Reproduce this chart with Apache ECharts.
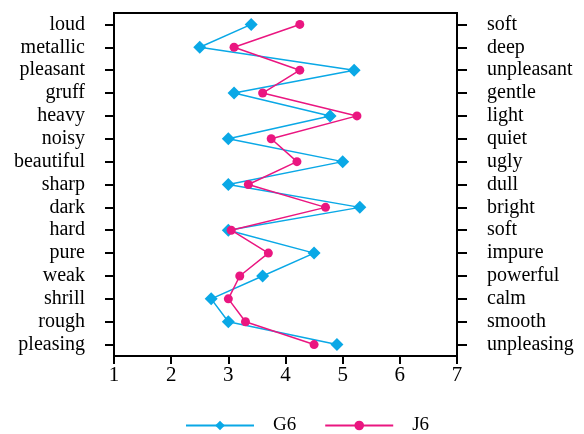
<!DOCTYPE html>
<html>
<head>
<meta charset="utf-8">
<script src="https://cdn.jsdelivr.net/npm/echarts@6/dist/echarts.min.js"></script>
<style>html,body{margin:0;padding:0;background:#fff}#main{width:584px;height:434px}</style>
</head>
<body>
<div id="main"></div>
<script>
    var leftWords = ['loud', 'metallic', 'pleasant', 'gruff', 'heavy', 'noisy', 'beautiful', 'sharp', 'dark', 'hard', 'pure', 'weak', 'shrill', 'rough', 'pleasing'];
    var rightWords = ['soft', 'deep', 'unpleasant', 'gentle', 'light', 'quiet', 'ugly', 'dull', 'bright', 'soft', 'impure', 'powerful', 'calm', 'smooth', 'unpleasing'];
    var g6 = [3.4, 2.5, 5.2, 3.1, 4.78, 3.0, 5.0, 3.0, 5.3, 3.0, 4.5, 3.6, 2.7, 3.0, 4.9];
    var j6 = [4.25, 3.1, 4.25, 3.6, 5.25, 3.75, 4.2, 3.35, 4.7, 3.05, 3.7, 3.2, 3.0, 3.3, 4.5];

    var font = 'Liberation Serif';
    var chart = echarts.init(document.getElementById('main'));
    chart.setOption({
        animation: false,
        textStyle: {fontFamily: font},
        grid: {left: 114, right: 127, top: 13, bottom: 78, show: true, borderColor: '#000', borderWidth: 2},
        legend: {
            top: 416, left: 185, padding: 0, itemWidth: 68, itemHeight: 12, itemGap: 28,
            textStyle: {fontFamily: font, fontSize: 19, color: '#000', padding: [0, 0, 0, 14]},
            data: ['G6', 'J6']
        },
        xAxis: {
            type: 'value', min: 1, max: 7, interval: 1,
            axisLine: {show: true, lineStyle: {color: '#000', width: 2}},
            axisTick: {show: true, length: 8, lineStyle: {color: '#000', width: 2}},
            axisLabel: {fontFamily: font, fontSize: 21, color: '#000', margin: 9},
            splitLine: {show: false}
        },
        yAxis: [{
            type: 'category', inverse: true, data: leftWords, position: 'left',
            axisLine: {show: true, lineStyle: {color: '#000', width: 2}},
            axisTick: {show: true, alignWithLabel: true, interval: 0, length: 9, lineStyle: {color: '#000', width: 2}},
            axisLabel: {fontFamily: font, fontSize: 20, color: '#000', margin: 29, interval: 0}
        }, {
            type: 'category', inverse: true, data: rightWords, position: 'right',
            axisLine: {show: true, lineStyle: {color: '#000', width: 2}},
            axisTick: {show: true, alignWithLabel: true, interval: 0, length: 10, lineStyle: {color: '#000', width: 2}},
            axisLabel: {fontFamily: font, fontSize: 20, color: '#000', margin: 30, align: 'left', interval: 0}
        }],
        series: [{
            name: 'G6', type: 'line', yAxisIndex: 0,
            symbol: 'diamond', symbolSize: 13,
            itemStyle: {color: '#0aa8e6'},
            lineStyle: {color: '#0aa8e6', width: 1.5},
            data: g6
        }, {
            name: 'J6', type: 'line', yAxisIndex: 0,
            symbol: 'circle', symbolSize: 9,
            itemStyle: {color: '#ea1680'},
            lineStyle: {color: '#ea1680', width: 1.5},
            data: j6
        }]
    });
</script>
</body>
</html>
